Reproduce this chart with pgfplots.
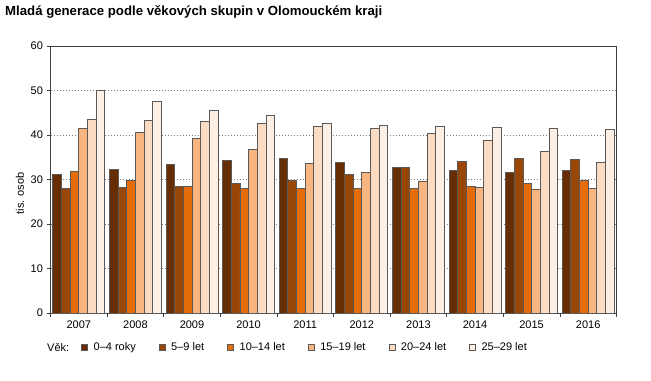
\documentclass[border=0pt]{standalone}
\usepackage{pgfplots}
\pgfplotsset{compat=1.18}
\usepackage{fontspec}
\setmainfont{Liberation Sans}
\definecolor{c1}{HTML}{672E03}
\definecolor{c2}{HTML}{984709}
\definecolor{c3}{HTML}{E46C0A}
\definecolor{c4}{HTML}{F9B580}
\definecolor{c5}{HTML}{FBDCC3}
\definecolor{c6}{HTML}{FDEFE4}
\definecolor{edge}{HTML}{595959}
\definecolor{axcol}{HTML}{404040}
\begin{document}
\begin{tikzpicture}[x=1bp,y=1bp]
\useasboundingbox (0,0) rectangle (651,380);
\node[anchor=base west, inner sep=0pt, font=\fontsize{13.2bp}{15bp}\selectfont\bfseries] at (5,365) {Mladá generace podle věkových skupin v Olomouckém kraji};
\begin{axis}[
  at={(50.5bp,67bp)}, anchor=south west,
  scale only axis, width=566bp, height=267bp,
  xmin=-0.5, xmax=9.5, ymin=0, ymax=60,
  ybar=0pt, bar width=0.153,
  axis line style={axcol, line width=0.8bp},
  tick align=outside,
  xtick={0,...,9},
  xticklabels={2007,2008,2009,2010,2011,2012,2013,2014,2015,2016},
  major x tick style={draw=none},
  minor xtick={-0.5,0.5,...,9.5},
  minor tick length=4bp,
  minor x tick style={axcol, line width=0.8bp},
  xtick pos=bottom,
  ytick={0,10,...,60},
  ytick pos=left,
  major tick length=4bp,
  y tick style={axcol, line width=0.8bp},
  ymajorgrids,
  major grid style={gray, line width=0.8bp, dash pattern=on 1bp off 2bp},
  tick label style={font=\fontsize{11bp}{13bp}\selectfont},
  /pgf/number format/assume math mode=true,
  ylabel={tis. osob},
  ylabel style={font=\fontsize{11bp}{13bp}\selectfont, at={(ticklabel cs:0.5)}, xshift=-14bp},
  legend columns=6,
  legend style={draw=none, fill=none, at={(0.054,-0.127)}, anchor=west, inner sep=0pt,
    font=\fontsize{11bp}{13bp}\selectfont,
    /tikz/every even column/.append style={column sep=21bp}},
  legend image code/.code={\draw[#1, draw=edge, line width=0.8bp] (0bp,-3bp) rectangle (6bp,3bp); \path[draw=none, fill=none] (0bp,0bp) rectangle (10bp,0.1bp);},
  every axis plot/.append style={draw=edge, line width=0.8bp},
]
\addplot[fill=c1] coordinates {(0,31.2) (1,32.3) (2,33.4) (3,34.3) (4,34.8) (5,33.9) (6,32.7) (7,32.1) (8,31.6) (9,32.1)};
\addplot[fill=c2] coordinates {(0,28.0) (1,28.3) (2,28.5) (3,29.1) (4,29.8) (5,31.2) (6,32.7) (7,34.1) (8,34.8) (9,34.5)};
\addplot[fill=c3] coordinates {(0,31.9) (1,29.8) (2,28.5) (3,28.0) (4,28.0) (5,28.0) (6,28.0) (7,28.5) (8,29.1) (9,29.8)};
\addplot[fill=c4] coordinates {(0,41.5) (1,40.6) (2,39.2) (3,36.8) (4,33.6) (5,31.6) (6,29.6) (7,28.3) (8,27.8) (9,28.0)};
\addplot[fill=c5] coordinates {(0,43.5) (1,43.3) (2,43.0) (3,42.6) (4,41.9) (5,41.5) (6,40.4) (7,38.8) (8,36.3) (9,33.9)};
\addplot[fill=c6] coordinates {(0,50.0) (1,47.5) (2,45.5) (3,44.4) (4,42.6) (5,42.2) (6,41.9) (7,41.7) (8,41.5) (9,41.3)};
\legend{0–4 roky,5–9 let,10–14 let,15–19 let,20–24 let,25–29 let}
\end{axis}
\node[anchor=base west, inner sep=0pt, font=\fontsize{11bp}{13bp}\selectfont] at (47,29) {Věk:};
\end{tikzpicture}
\end{document}
